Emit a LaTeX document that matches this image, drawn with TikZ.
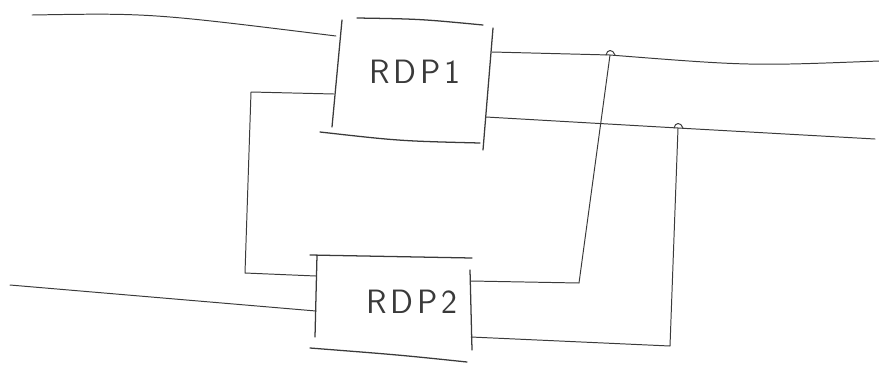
\documentclass[tikz,border=0pt]{standalone}
\usetikzlibrary{calc}
\definecolor{pencil}{HTML}{3A3A3A}
\tikzset{
  pen/.style={draw=pencil, line width=0.7pt, line cap=round, line join=round},
  boxedge/.style={draw=pencil, line width=0.9pt, line cap=round},
  label/.style={text=pencil, font=\sffamily\fontsize{24}{24}\selectfont, inner sep=0pt},
}
\begin{document}
\begin{tikzpicture}[x=0.025cm, y=-0.025cm]
\useasboundingbox (0,0) rectangle (879,364);
% box RDP1
\draw[boxedge] (342,20) -- (332,127);
\draw[boxedge] (357,18) .. controls (420,19) .. (483,25);
\draw[boxedge] (493,28) -- (483,150);
\draw[boxedge] (320,132) .. controls (400,141) .. (480,143);
\node[label] (rdp1) at (415,72) {R\hspace{0.12em}D\hspace{0.12em}P\hspace{0.12em}1};
% box RDP2
\draw[boxedge] (317,255) -- (315,337);
\draw[boxedge] (310,255) -- (472,258);
\draw[boxedge] (470,270) -- (472,350);
\draw[boxedge] (310,348) .. controls (400,355) .. (467,362);
\node[label] (rdp2) at (412,302) {R\hspace{0.12em}D\hspace{0.12em}P\hspace{0.12em}2};
% ports
\coordinate (a1) at (336,36);
\coordinate (a2) at (334,94);
\coordinate (o1) at (492,52);
\coordinate (o2) at (486,117);
\coordinate (b1) at (316,276);
\coordinate (b2) at (316,311);
\coordinate (q1) at (471,281);
\coordinate (q2) at (471,337);
% free ends and bends
\coordinate (s1) at (32,15);
\coordinate (s2) at (10,285);
\coordinate (t1) at (879,61);
\coordinate (t2) at (875,139);
\coordinate (j1) at (610,55);
\coordinate (j2) at (678,128);
\coordinate (k1) at (579,283);
\coordinate (k2) at (670,346);
\coordinate (l1) at (251,92);
\coordinate (l2) at (245,273);
% connectors
\draw[pen] (s1) .. controls (150,13) .. (a1);
\draw[pen] (s2) -- (b2);
\draw[pen] (a2) -- (l1) -- (l2) -- (b1);
\draw[pen] (o1) -- (j1) .. controls (750,66) .. (t1);
\draw[pen] (o2) -- (j2) -- (t2);
\draw[pen] (q1) -- (k1) -- (j1);
\draw[pen] (q2) -- (k2) -- (j2);
% small humps at the junctions
\draw[pen] ($(j1)+(-4,0)$) .. controls ($(j1)+(-3,-6)$) and ($(j1)+(3,-6)$) .. ($(j1)+(5,0)$);
\draw[pen] ($(j2)+(-4,0)$) .. controls ($(j2)+(-3,-6)$) and ($(j2)+(3,-6)$) .. ($(j2)+(5,0)$);
\end{tikzpicture}
\end{document}
